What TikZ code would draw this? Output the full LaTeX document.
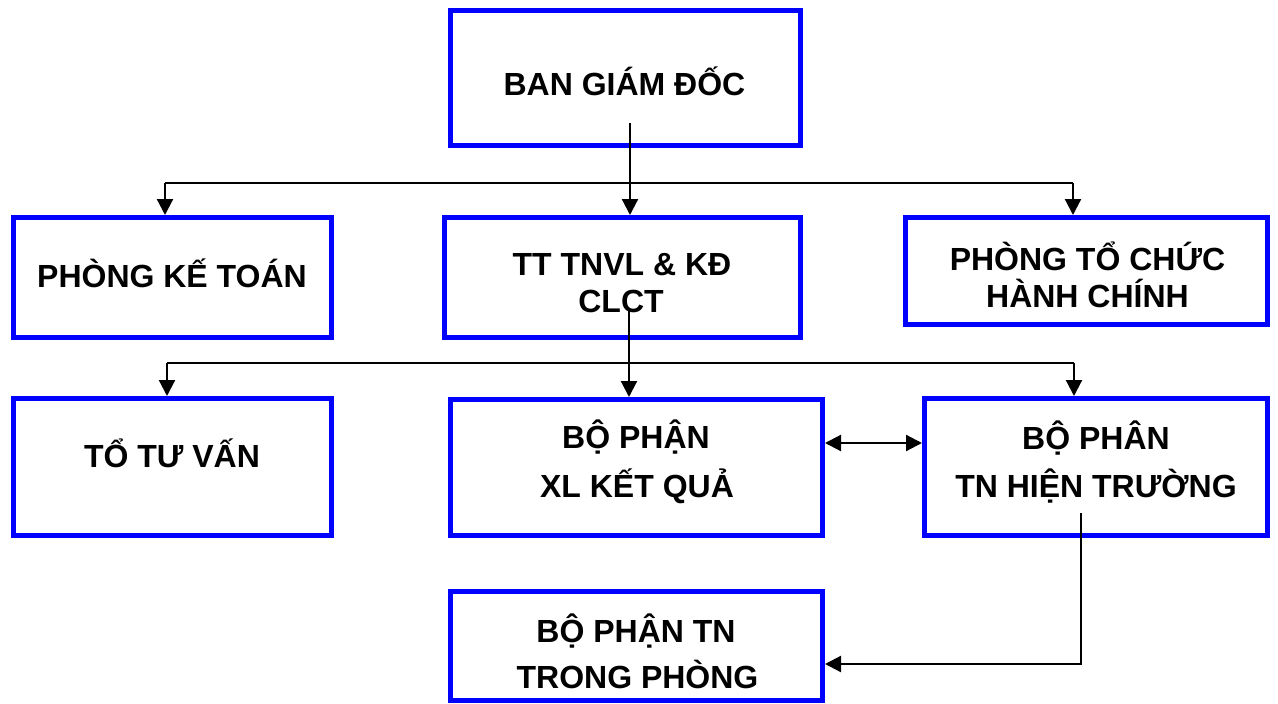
\documentclass[tikz,border=0pt]{standalone}
\usepackage{fontspec}
\setmainfont{Liberation Sans}
\usetikzlibrary{arrows.meta}
\definecolor{boxblue}{RGB}{0,0,255}
\tikzset{
  x=1pt, y=-1pt,
  box/.style={draw=boxblue, line width=5pt, fill=white, inner sep=0pt, rectangle},
  txt/.style={anchor=base, inner sep=0pt, font=\fontsize{32}{38}\selectfont\bfseries},
  conn/.style={draw=black, line width=2.2pt},
  bus/.style={draw=black, line width=1.6pt},
  tip/.style={-{Triangle[length=16pt,width=16pt]}},
  dtip/.style={{Triangle[length=16pt,width=16pt]}-{Triangle[length=16pt,width=16pt]}}
}
\begin{document}
\begin{tikzpicture}
\useasboundingbox (0,0) rectangle (1278,704);
% boxes
\node[box, minimum width=350pt, minimum height=135pt] (b1) at (625.5,78) {};
\node[box, minimum width=318pt, minimum height=120pt] (b2) at (172.5,277.5) {};
\node[box, minimum width=356pt, minimum height=120pt] (b3) at (622.5,277.5) {};
\node[box, minimum width=362pt, minimum height=107pt] (b4) at (1086.5,271) {};
\node[box, minimum width=318pt, minimum height=137pt] (b5) at (172.5,467) {};
\node[box, minimum width=372pt, minimum height=136pt] (b6) at (636.5,467.5) {};
\node[box, minimum width=343pt, minimum height=137pt] (b7) at (1096,467) {};
\node[box, minimum width=372pt, minimum height=109pt] (b8) at (636.5,646) {};
% texts
\node[txt] (t1) at (624.5,95) {BAN GIÁM ĐỐC};
\node[txt] (t2) at (172,287) {PHÒNG KẾ TOÁN};
\node[txt] (t3a) at (622,275) {TT TNVL \& KĐ};
\node[txt] (t3b) at (621,312) {CLCT};
\node[txt] (t4a) at (1087.5,270) {PHÒNG TỔ CHỨC};
\node[txt] (t4b) at (1087.5,307) {HÀNH CHÍNH};
\node[txt] (t5) at (172,467) {TỔ TƯ VẤN};
\node[txt] (t6a) at (636,448) {BỘ PHẬN};
\node[txt] (t6b) at (637,497) {XL KẾT QUẢ};
\node[txt] (t7a) at (1096,449) {BỘ PHÂN};
\node[txt] (t7b) at (1096,497) {TN HIỆN TRƯỜNG};
\node[txt] (t8a) at (636,642) {BỘ PHẬN TN};
\node[txt] (t8b) at (637.5,688) {TRONG PHÒNG};
% connector coordinates
\coordinate (s1) at (630,123);
\coordinate (busL1) at (165,183);
\coordinate (busR1) at (1073,183);
\coordinate (s2) at (629,310);
\coordinate (busL2) at (167,363);
\coordinate (busR2) at (1074,363);
\coordinate (d1) at (0,443);
\coordinate (s3) at (1081,513);
\coordinate (turn3) at (1081,664);
% level 1
\draw[bus] (busL1) -- (busR1);
\draw[conn,tip] (s1) -- (s1 |- b3.north);
\draw[conn,tip] (busL1) -- (busL1 |- b2.north);
\draw[conn,tip] (busR1) -- (busR1 |- b4.north);
% level 2
\draw[bus] (busL2) -- (busR2);
\draw[conn,tip] (s2) -- (s2 |- b6.north);
\draw[conn,tip] (busL2) -- (busL2 |- b5.north);
\draw[conn,tip] (busR2) -- (busR2 |- b7.north);
% double arrow
\draw[conn,dtip] (b6.east |- d1) -- (b7.west |- d1);
% to lab
\draw[conn,tip] (s3) -- (turn3) -- (turn3 -| b8.east);
\end{tikzpicture}
\end{document}
